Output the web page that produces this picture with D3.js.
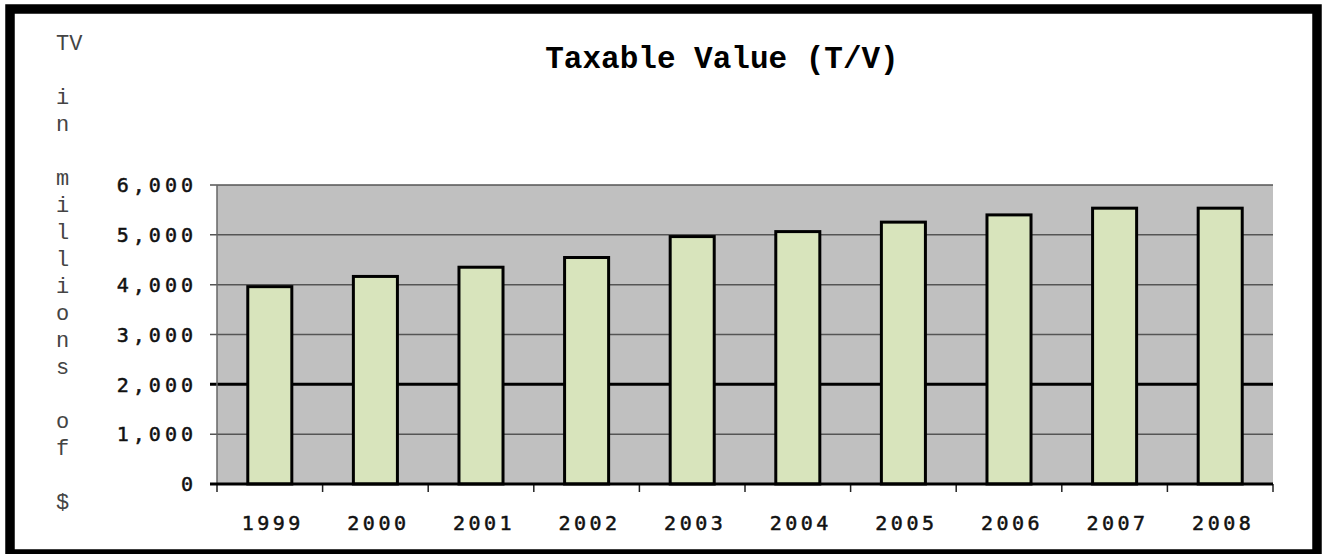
<!DOCTYPE html>
<html>
<head>
<meta charset="utf-8">
<script src="https://cdn.jsdelivr.net/npm/d3@7"></script>
<style>
  body { margin: 0; background: #fff; }
</style>
</head>
<body>
<div id="chart"></div>
<script>
// data
const years = ["1999", "2000", "2001", "2002", "2003", "2004", "2005", "2006", "2007", "2008"];
const taxableValue = [3960, 4165, 4350, 4545, 4965, 5065, 5255, 5400, 5535, 5535];
const yTicks = [0, 1000, 2000, 3000, 4000, 5000, 6000];
const titleText = "Taxable Value (T/V)";
const yTitleLines = ["TV", "", "i", "n", "", "m", "i", "l", "l", "i", "o", "n", "s", "", "o", "f", "", "$"];

const W = 1322, H = 554;
const plot = { left: 217, right: 1273, top: 185, bottom: 484 };
const tickFont = "DejaVu Sans Mono, monospace";

const svg = d3.select("#chart")
  .append("svg")
  .attr("width", W)
  .attr("height", H);

svg.append("rect")
  .attr("width", W).attr("height", H)
  .attr("fill", "#fff");

// outer frame
svg.append("rect")
  .attr("x", 10).attr("y", 9)
  .attr("width", 1307).attr("height", 545)
  .attr("fill", "none")
  .attr("stroke", "#000")
  .attr("stroke-width", 9.5);

const x = d3.scaleBand()
  .domain(years)
  .range([plot.left, plot.right])
  .paddingInner(0.583)
  .paddingOuter(0.2915);

const y = d3.scaleLinear()
  .domain([0, 6000])
  .range([plot.bottom, plot.top]);

// plot area
svg.append("rect")
  .attr("x", plot.left).attr("y", plot.top)
  .attr("width", plot.right - plot.left)
  .attr("height", plot.bottom - plot.top)
  .attr("fill", "#c0c0c0");

// gridlines + left ticks
svg.append("g")
  .selectAll("line")
  .data(yTicks.filter(d => d > 0))
  .join("line")
  .attr("x1", plot.left - 7)
  .attr("x2", plot.right)
  .attr("y1", d => y(d))
  .attr("y2", d => y(d))
  .attr("stroke", d => d === 2000 ? "#000" : "#555")
  .attr("stroke-width", d => d === 2000 ? 3 : 1.5);

// left axis line
svg.append("line")
  .attr("x1", plot.left).attr("x2", plot.left)
  .attr("y1", plot.top).attr("y2", plot.bottom)
  .attr("stroke", "#666")
  .attr("stroke-width", 1.5);

// y tick labels
svg.append("g")
  .selectAll("text")
  .data(yTicks)
  .join("text")
  .attr("x", 197)
  .attr("y", d => y(d))
  .attr("dy", "0.36em")
  .attr("text-anchor", "end")
  .attr("font-family", tickFont)
  .attr("font-size", 20)
  .attr("letter-spacing", 4)
  .attr("fill", "#111")
  .attr("stroke", "#111")
  .attr("stroke-width", 0.5)
  .text(d => d3.format(",")(d));

// bars
svg.append("g")
  .selectAll("rect")
  .data(years.map((yr, i) => ({ yr, v: taxableValue[i] })))
  .join("rect")
  .attr("x", d => x(d.yr))
  .attr("y", d => y(d.v))
  .attr("width", x.bandwidth())
  .attr("height", d => y(0) - y(d.v))
  .attr("fill", "#d8e4bc")
  .attr("stroke", "#000")
  .attr("stroke-width", 3);

// x axis baseline and ticks
const bounds = years.map(d => x(d) - x.step() * x.paddingOuter()).concat([plot.right]);
svg.append("g")
  .selectAll("line")
  .data(bounds)
  .join("line")
  .attr("x1", d => d).attr("x2", d => d)
  .attr("y1", plot.bottom).attr("y2", plot.bottom + 8)
  .attr("stroke", "#222")
  .attr("stroke-width", 1.5);

svg.append("line")
  .attr("x1", plot.left - 7).attr("x2", plot.right)
  .attr("y1", plot.bottom).attr("y2", plot.bottom)
  .attr("stroke", "#000")
  .attr("stroke-width", 3);

// x labels
svg.append("g")
  .selectAll("text")
  .data(years)
  .join("text")
  .attr("x", d => x(d) + x.bandwidth() / 2 + 3)
  .attr("y", 530)
  .attr("text-anchor", "middle")
  .attr("font-family", tickFont)
  .attr("font-size", 20)
  .attr("letter-spacing", 3.5)
  .attr("fill", "#111")
  .attr("stroke", "#111")
  .attr("stroke-width", 0.5)
  .text(d => d);

// title
svg.append("text")
  .attr("x", 722)
  .attr("y", 68)
  .attr("text-anchor", "middle")
  .attr("font-family", "Liberation Mono, Courier New, monospace")
  .attr("font-weight", "bold")
  .attr("font-size", 31)
  .attr("fill", "#000")
  .text(titleText);

// stacked y title
svg.append("g")
  .selectAll("text")
  .data(yTitleLines)
  .join("text")
  .attr("x", 56)
  .attr("y", (d, i) => 50 + i * 27)
  .attr("font-family", "Liberation Mono, Courier New, monospace")
  .attr("font-size", 22)
  .attr("fill", "#444")
  .text(d => d);
</script>
</body>
</html>
